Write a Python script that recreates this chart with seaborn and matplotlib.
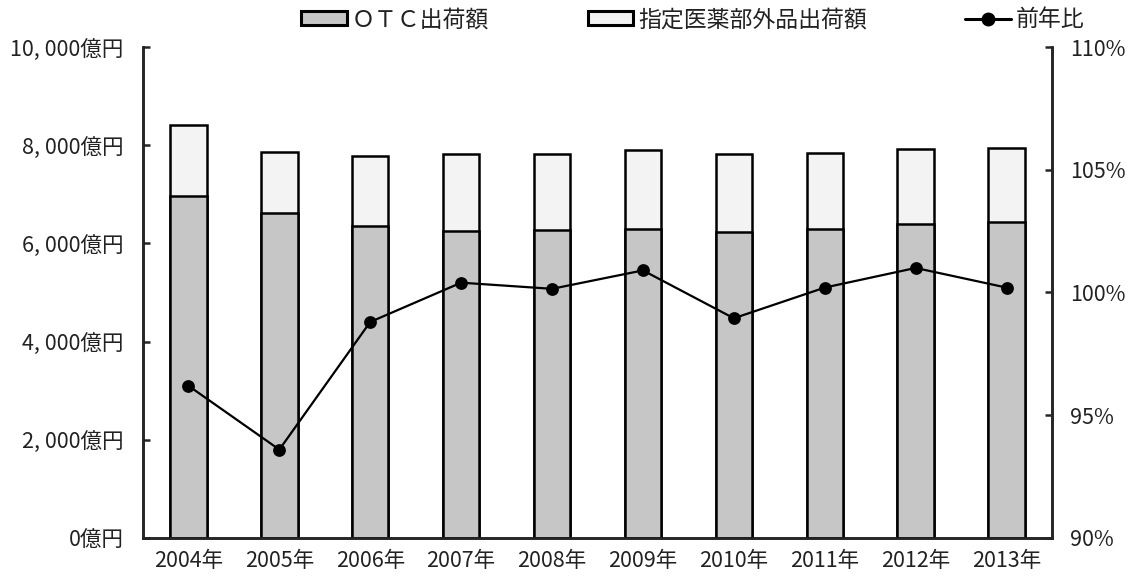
import numpy as np
import pandas as pd
import matplotlib
matplotlib.use('Agg')
import matplotlib.pyplot as plt
import seaborn as sns
from matplotlib.patches import Patch
from matplotlib.lines import Line2D

# 年ごとの出荷額（億円）と前年比（%）
years = ['2004年', '2005年', '2006年', '2007年', '2008年',
         '2009年', '2010年', '2011年', '2012年', '2013年']
otc = [6960, 6620, 6350, 6250, 6270, 6290, 6230, 6290, 6390, 6430]
quasi = [1450, 1240, 1430, 1570, 1550, 1610, 1590, 1550, 1530, 1510]
ratio = [96.2, 93.6, 98.8, 100.4, 100.15, 100.9, 98.95, 100.2, 101.0, 100.2]

left_ticks = [0, 2000, 4000, 6000, 8000, 10000]
left_labels = ['0億円', '2, 000億円', '4, 000億円', '6, 000億円', '8, 000億円', '10, 000億円']
right_ticks = [90, 95, 100, 105, 110]
right_labels = ['90%', '95%', '100%', '105%', '110%']

sns.set_style('white')
plt.rcParams['font.family'] = ['Noto Sans CJK JP', 'DejaVu Sans']

df = pd.DataFrame({'year': years, 'otc': otc, 'quasi': quasi, 'ratio': ratio})
df['total'] = df['otc'] + df['quasi']

fs = 15.5
fig = plt.figure(figsize=(11.33, 5.84), dpi=100)
ax = fig.add_axes([0.1262, 0.0788, 0.8023, 0.8407])

# 積み上げ棒：合計を先に描き、その上にOTC分を重ねる
sns.barplot(data=df, x='year', y='total', ax=ax, color='#f3f3f3',
            edgecolor='black', linewidth=1.8, width=0.4, saturation=1)
sns.barplot(data=df, x='year', y='otc', ax=ax, color='#c6c6c6',
            edgecolor='black', linewidth=1.8, width=0.4, saturation=1)

ax.set_xlim(-0.5, 9.5)
ax.set_ylim(0, 10000)
ax.set_yticks(left_ticks)
ax.set_yticklabels(left_labels)
ax.set_xlabel('')
ax.set_ylabel('')
ax.tick_params(axis='y', direction='in', length=5, width=1.8, labelsize=fs, pad=14,
               labelcolor='#222222')
ax.tick_params(axis='x', length=0, labelsize=fs, pad=9, labelcolor='#222222')
for s in ['left', 'bottom', 'right']:
    ax.spines[s].set_linewidth(1.8)
    ax.spines[s].set_color('black')
ax.spines['top'].set_visible(False)

ax2 = ax.twinx()
sns.pointplot(data=df, x='year', y='ratio', ax=ax2, color='black',
              markersize=8, linewidth=1.6, errorbar=None)
ax2.set_xlim(-0.5, 9.5)
ax2.set_ylim(90, 110)
ax2.set_yticks(right_ticks)
ax2.set_yticklabels(right_labels)
ax2.set_ylabel('')
ax2.tick_params(axis='y', direction='in', length=5, width=1.8, labelsize=fs, pad=13,
                labelcolor='#222222')
for s in ['left', 'bottom', 'right']:
    ax2.spines[s].set_linewidth(1.8)
ax2.spines['top'].set_visible(False)

handles = [
    Patch(facecolor='#c6c6c6', edgecolor='black', linewidth=2.2),
    Patch(facecolor='#f3f3f3', edgecolor='black', linewidth=2.2),
    Line2D([0], [0], color='black', lw=2.2, marker='o', markersize=9),
]
labels = ['ＯＴＣ出荷額', '指定医薬部外品出荷額', '前年比']
fig.legend(handles, labels, loc='center', bbox_to_anchor=(0.6115, 0.966), ncol=3,
           frameon=False, fontsize=16.5, handlelength=2.0, handleheight=0.55,
           handletextpad=0.2, columnspacing=4.3, labelcolor='#222222')

fig.savefig('out.png', dpi=100)
